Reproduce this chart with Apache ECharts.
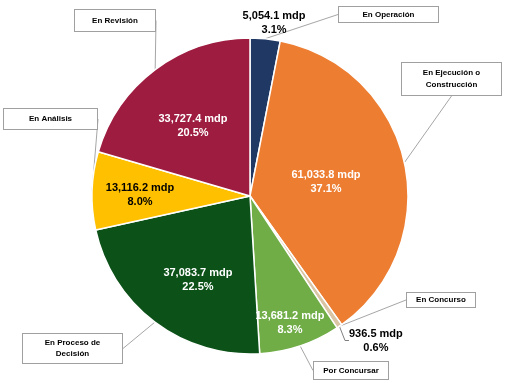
<!DOCTYPE html>
<html><head><meta charset="utf-8">
<script src="https://cdn.jsdelivr.net/npm/echarts@6/dist/echarts.min.js"></script>
<style>html,body{margin:0;padding:0;background:#fff}#c{width:505px;height:383px}</style>
</head><body><div id="c"></div>
<script>
// ---- data ----
const categories = ['En Operación', 'En Ejecución o\nConstrucción', 'En Concurso', 'Por Concursar', 'En Proceso de\nDecisión', 'En Análisis', 'En Revisión'];
const values = [5054.1, 61033.8, 936.5, 13681.2, 37083.7, 13116.2, 33727.4];
const unit = 'mdp';

// ---- style / layout ----
const colors = ['#203864', '#ED7D31', '#D9C4A3', '#70AD47', '#0B5118', '#FFC000', '#9E1C40'];
const CX = 250, CY = 196, R = 158;
// [radius fraction, angle offset (deg)] for the value labels
const valueLabelPlace = [[1.105, 2.4], [0.49, 1.4], [1.213, -6.6], [0.842, 1], [0.625, -5.2], [0.696, -1.4], [0.571, -2.3]];
const valueLabelColor = ['#000', '#fff', '#000', '#fff', '#fff', '#000', '#fff'];
const valueLabelOutside = [true, false, true, false, false, false, false];
const valueLabelLine = [false, false, true, false, false, false, false];
// callout boxes: [centerX, centerY, width, height]
const boxPlace = [[388.5, 14.5, 101, 17], [451.5, 79, 101, 34], [441, 300, 70, 16], [351, 370.5, 76, 19], [72.5, 348.5, 101, 31], [50.5, 119, 95, 22], [115, 20.5, 82, 23]];

const total = values.reduce((a, b) => a + b, 0);
const mids = []; let acc = 0;
values.forEach(v => { mids.push(acc + v / 2); acc += v; });

function fmt(v) { return v.toLocaleString('en-US', { minimumFractionDigits: 1, maximumFractionDigits: 1 }); }

const FONT = 'Liberation Sans, Arial, sans-serif';

const valueData = values.map((v, i) => ({
  name: categories[i], value: v,
  itemStyle: { color: colors[i] },
  label: { position: valueLabelOutside[i] ? 'outside' : 'inside', color: valueLabelColor[i] },
  labelLine: { show: valueLabelLine[i] }
}));

const boxData = values.map((v, i) => {
  const lines = categories[i].split('\n').length;
  const w = boxPlace[i][2], h = boxPlace[i][3];
  const lh = lines === 1 ? h - 2 : 11.5;
  const pad = lines === 1 ? 0 : (h - 2 - lines * lh) / 2;
  return {
    name: categories[i], value: v,
    label: { width: w - 2, lineHeight: lh, padding: [pad, 0, pad, 0] }
  };
});

const chart = echarts.init(document.getElementById('c'), null, { renderer: 'canvas' });
chart.setOption({
  animation: false,
  backgroundColor: '#fff',
  series: [
    {
      type: 'pie',
      center: [CX, CY], radius: [0, R],
      startAngle: 90, clockwise: true,
      avoidLabelOverlap: false,
      silent: true,
      itemStyle: { borderColor: '#fff', borderWidth: 1.5 },
      label: {
        show: true, fontFamily: FONT, fontSize: 11, fontWeight: 'bold', lineHeight: 14,
        formatter: p => fmt(p.value) + ' ' + unit + '\n' + (p.value / total * 100).toFixed(1) + '%'
      },
      labelLine: { length: 4, length2: 4, lineStyle: { color: '#7F7F7F', width: 1 } },
      labelLayout: p => {
        const i = p.dataIndex;
        const a = (mids[i] / total * 360 + valueLabelPlace[i][1]) * Math.PI / 180;
        const r = R * valueLabelPlace[i][0];
        return { x: CX + r * Math.sin(a), y: CY - r * Math.cos(a), align: 'center', verticalAlign: 'middle' };
      },
      data: valueData
    },
    {
      type: 'pie',
      center: [CX, CY], radius: [0, R],
      startAngle: 90, clockwise: true,
      avoidLabelOverlap: false,
      silent: true,
      itemStyle: { color: 'rgba(0,0,0,0)', borderWidth: 0 },
      label: {
        show: true, position: 'outside', formatter: '{b}',
        fontFamily: FONT, fontSize: 8, fontWeight: 'bold', color: '#000',
        align: 'center',
        backgroundColor: '#fff', borderColor: '#A0A0A0', borderWidth: 1
      },
      labelLine: { show: true, length: 6, length2: 0, lineStyle: { color: '#A6A6A6', width: 1 } },
      labelLayout: p => {
        const b = boxPlace[p.dataIndex];
        return { x: b[0], y: b[1], align: 'center', verticalAlign: 'middle' };
      },
      data: boxData
    }
  ]
});
</script></body></html>
